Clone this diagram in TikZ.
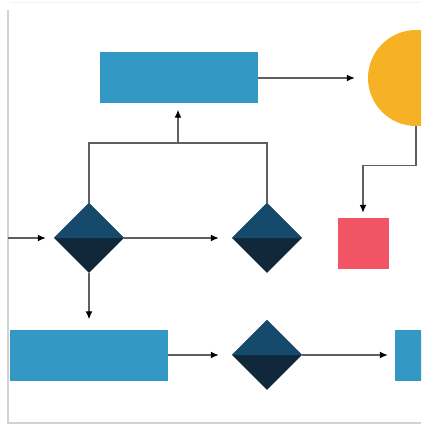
\documentclass[tikz,border=0pt]{standalone}
\usepackage{tikz}
\usetikzlibrary{shapes.geometric,positioning,arrows.meta,calc}

\definecolor{procblue}{RGB}{52,152,196}
\definecolor{diatop}{RGB}{22,74,108}
\definecolor{diabot}{RGB}{16,40,58}
\definecolor{termyellow}{RGB}{245,178,36}
\definecolor{endred}{RGB}{240,84,101}
\definecolor{linegray}{RGB}{95,95,95}

\tikzset{
  proc/.style={fill=procblue, rectangle, inner sep=0pt, minimum width=158pt, minimum height=51pt},
  dia/.style={fill=diabot, diamond, aspect=1, inner sep=0pt, minimum width=70pt, minimum height=70pt},
  term/.style={fill=termyellow, circle, inner sep=0pt, minimum size=96pt},
  endbox/.style={fill=endred, rectangle, inner sep=0pt, minimum size=51pt},
  conn/.style={draw=linegray, line width=1.3pt},
  arr/.style={conn, -{Latex[length=8pt,width=7pt,fill=black,color=black]}}
}

\begin{document}
\begin{tikzpicture}[x=1pt,y=-1pt]
	\useasboundingbox (0,0) rectangle (421,425);
	\clip (0,0) rectangle (421,425);
	% card edges
	\draw[gray!35, line width=1.5pt] (8,10) -- (8,423) -- (421,423);
	\draw[gray!10, line width=1pt] (10,3) -- (421,3);

	\node[proc] (r1) at (179,78) {};
	\node[term] (c) at (416,78) {};
	\node[dia] (d1) at (89,238) {};
	\node[dia] (d2) at (267,238) {};
	\node[endbox] (sq) at (363,243.5) {};
	\node[proc] (r2) at (88.5,355) {};
	\node[dia] (d3) at (267,355) {};
	\node[proc] (r3) at (474,355) {};

	% top halves of the diamonds
	\foreach \d in {d1,d2,d3}
		\fill[diatop] (\d.west) -- (\d.north) -- (\d.east) -- cycle;

	\coordinate (in) at (8,238);
	\coordinate (j) at (178,143);

	\draw[arr, shorten >=8pt] (in) -- (d1.west);
	\draw[arr, shorten >=13pt] (d1.east) -- (d2.west);
	\draw[conn] (d1.north) |- (j) -| (d2.north);
	\draw[arr, shorten >=6pt] (j) -- (j |- r1.south);
	\draw[arr, shorten >=13pt] (r1.east) -- (c.west);
	\draw[arr, shorten >=5pt] (c.south) -- ++(0,39) -| (sq.north);
	\draw[arr, shorten >=10pt] (d1.south) -- (d1.south |- r2.north);
	\draw[arr, shorten >=13pt] (r2.east) -- (d3.west);
	\draw[arr, shorten >=7pt] (d3.east) -- (r3.west);
\end{tikzpicture}
\end{document}
